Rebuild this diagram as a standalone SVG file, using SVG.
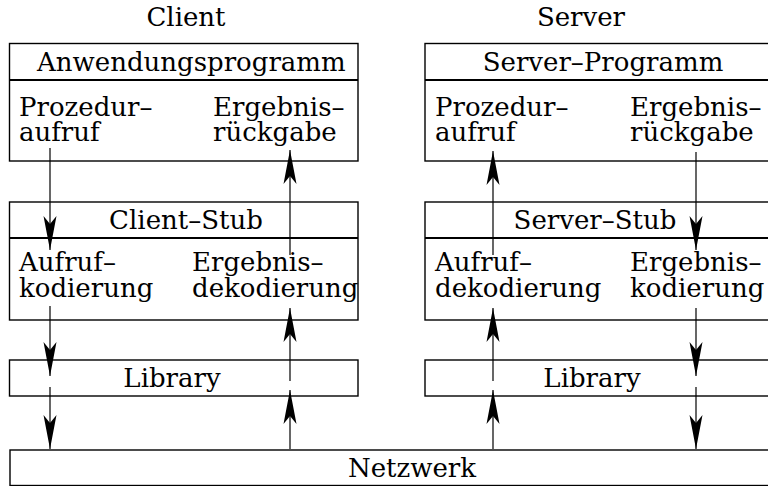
<svg xmlns="http://www.w3.org/2000/svg" width="768" height="486" viewBox="0 0 768 486">
<style>
text{font-family:"DejaVu Serif","Liberation Serif",serif;font-size:26px;fill:#000}
.box{fill:none;stroke:#000;stroke-width:1.4}
.div{stroke:#000;stroke-width:2}
.arr{stroke:#000;stroke-width:1.2;fill:none;marker-end:url(#ah)}
.c{text-anchor:middle}
</style>
<defs>
<marker id="ah" viewBox="0 -7 34 14" refX="34" refY="0" markerWidth="34" markerHeight="14" markerUnits="userSpaceOnUse" orient="auto">
<path d="M0,-6.5 L34,0 L0,6.5 L8,0 Z" fill="#000"/>
</marker>
</defs>
<rect width="768" height="486" fill="#fff"/>
<g id="client-title"><text class="c" x="186" y="26">Client</text></g>
<g id="server-title"><text class="c" x="581" y="26">Server</text></g>
<g id="anwendungsprogramm">
<rect class="box" x="9.5" y="43.5" width="348.5" height="117.5"/>
<line class="div" x1="9.5" y1="80" x2="358" y2="80"/>
<text x="37" y="71">Anwendungsprogramm</text>
<text x="19" y="116">Prozedur–<tspan x="19" dy="25">aufruf</tspan></text>
<text x="213" y="116">Ergebnis–<tspan x="213" dy="25">rückgabe</tspan></text>
</g>
<g id="client-stub">
<rect class="box" x="9.5" y="202" width="348.5" height="118"/>
<line class="div" x1="9.5" y1="238" x2="358" y2="238"/>
<text class="c" x="186" y="229">Client–Stub</text>
<text x="19" y="271">Aufruf–<tspan x="19" dy="26">kodierung</tspan></text>
<text x="192" y="271">Ergebnis–<tspan x="192" dy="26">dekodierung</tspan></text>
</g>
<g id="client-library">
<rect class="box" x="9.5" y="360" width="348.5" height="36"/>
<text class="c" x="172" y="387">Library</text>
</g>
<g id="server-programm">
<rect class="box" x="425" y="43.5" width="360" height="117.5"/>
<line class="div" x1="425" y1="80" x2="785" y2="80"/>
<text class="c" x="603" y="71">Server–Programm</text>
<text x="435" y="116">Prozedur–<tspan x="435" dy="25">aufruf</tspan></text>
<text x="630" y="116">Ergebnis–<tspan x="630" dy="25">rückgabe</tspan></text>
</g>
<g id="server-stub">
<rect class="box" x="425" y="202" width="360" height="118"/>
<line class="div" x1="425" y1="238" x2="785" y2="238"/>
<text class="c" x="595" y="229">Server–Stub</text>
<text x="435" y="271">Aufruf–<tspan x="435" dy="26">dekodierung</tspan></text>
<text x="630" y="271">Ergebnis–<tspan x="630" dy="26">kodierung</tspan></text>
</g>
<g id="server-library">
<rect class="box" x="425" y="360" width="360" height="36"/>
<text class="c" x="592" y="387">Library</text>
</g>
<g id="netzwerk">
<rect class="box" x="10" y="450" width="775" height="35.5"/>
<text class="c" x="412" y="477">Netzwerk</text>
</g>
<g id="connectors">
<line class="arr" x1="50" y1="148" x2="50" y2="250"/>
<line class="arr" x1="50" y1="306" x2="50" y2="376"/>
<line class="arr" x1="50" y1="387" x2="50" y2="449"/>
<line class="arr" x1="290" y1="449" x2="290" y2="390"/>
<line class="arr" x1="290" y1="381" x2="290" y2="308"/>
<line class="arr" x1="290" y1="255" x2="290" y2="150"/>
<line class="arr" x1="493" y1="449" x2="493" y2="390"/>
<line class="arr" x1="493" y1="381" x2="493" y2="308"/>
<line class="arr" x1="493" y1="255" x2="493" y2="151"/>
<line class="arr" x1="696" y1="152" x2="696" y2="250"/>
<line class="arr" x1="696" y1="308" x2="696" y2="376"/>
<line class="arr" x1="696" y1="387" x2="696" y2="449"/>
</g>
</svg>
